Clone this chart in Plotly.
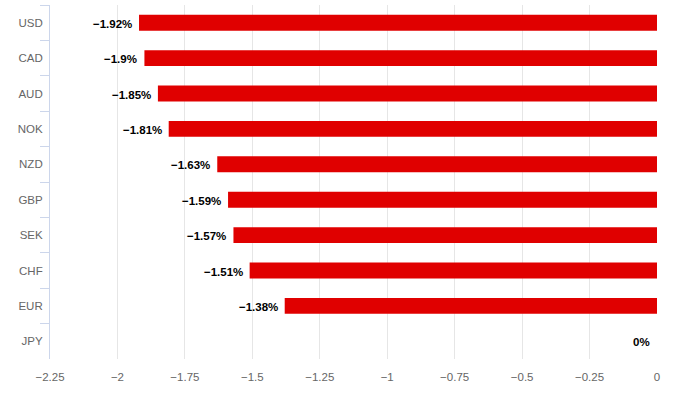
import plotly.graph_objects as go

currencies = ["USD", "CAD", "AUD", "NOK", "NZD", "GBP", "SEK", "CHF", "EUR", "JPY"]
changes = [-1.92, -1.9, -1.85, -1.81, -1.63, -1.59, -1.57, -1.51, -1.38, 0]
x_tick_vals = [-2.25, -2, -1.75, -1.5, -1.25, -1, -0.75, -0.5, -0.25, 0]
x_tick_text = ["−2.25", "−2", "−1.75", "−1.5", "−1.25", "−1", "−0.75", "−0.5", "−0.25", "0"]

FONT = "Liberation Sans, Arial, sans-serif"

def fmt(v):
    return (f"{v:g}%").replace("-", "−")

fig = go.Figure(
    go.Bar(
        x=changes,
        y=currencies,
        orientation="h",
        marker=dict(color="#e00000", line=dict(width=0)),
        hoverinfo="skip",
    )
)

for c, v in zip(currencies, changes):
    fig.add_annotation(
        x=v, y=c, xref="x", yref="y",
        text=fmt(v), showarrow=False,
        xanchor="right", xshift=-5, yshift=-1,
        font=dict(family=FONT, size=11.5, color="#000000", weight="bold"),
    )

fig.update_layout(
    width=677, height=397,
    margin=dict(l=50, r=20, t=5, b=38),
    paper_bgcolor="white", plot_bgcolor="white",
    bargap=0.55,
    showlegend=False,
    font=dict(family=FONT, size=11, color="#666666"),
    xaxis=dict(
        range=[-2.25, 0],
        tickvals=x_tick_vals, ticktext=x_tick_text,
        showgrid=True, gridcolor="#e6e6e6", gridwidth=1,
        zeroline=False, showline=False, ticks="",
        ticklabelstandoff=9,
        tickfont=dict(family=FONT, size=11.5, color="#666666"),
    ),
    yaxis=dict(
        autorange="reversed",
        showgrid=False, zeroline=False,
        showline=True, linecolor="#ccd6eb", linewidth=1,
        ticks="outside", tickson="boundaries", ticklen=9, tickcolor="#ccd6eb", tickwidth=1,
        ticklabelstandoff=4,
        tickfont=dict(family=FONT, size=11.5, color="#666666"),
    ),
)

fig.write_html("out.html", config={"displayModeBar": False, "staticPlot": True})

with open("out.html", "r", encoding="utf-8") as f:
    html = f.read()
html = html.replace("<body>", '<body style="margin:0;padding:0;overflow:hidden">', 1)
with open("out.html", "w", encoding="utf-8") as f:
    f.write(html)
